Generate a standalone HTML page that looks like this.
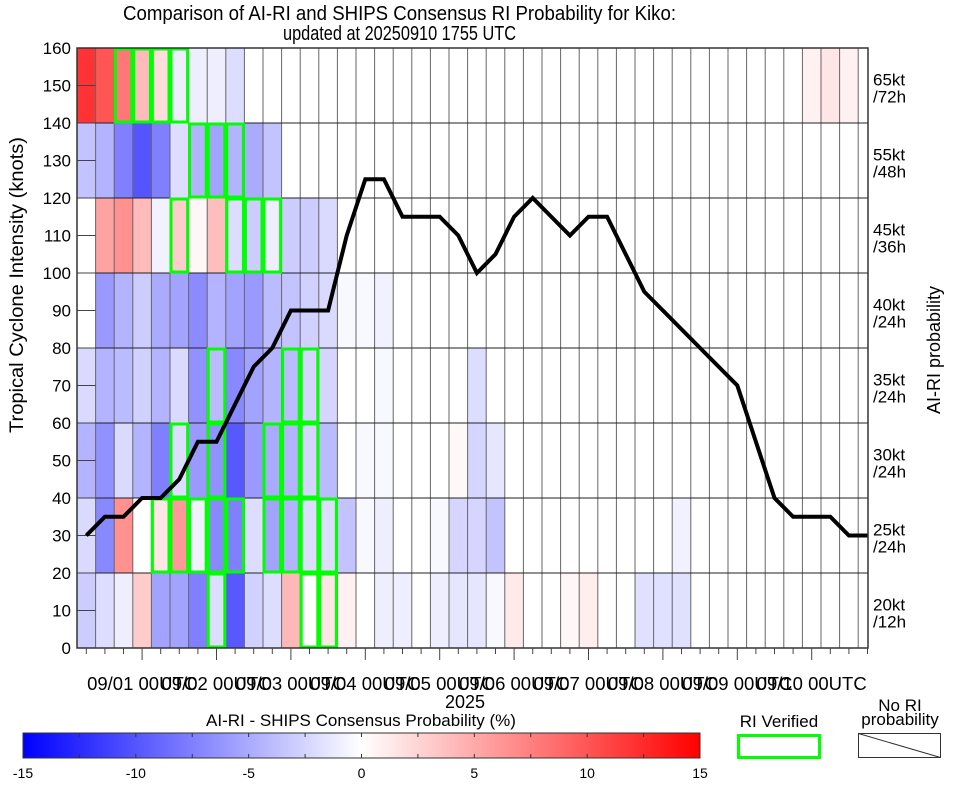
<!DOCTYPE html>
<html><head><meta charset="utf-8"><style>
html,body{margin:0;padding:0;background:#fff;}
svg{display:block;font-family:"Liberation Sans",sans-serif;}
</style></head><body>
<svg id="chart" width="964" height="786" viewBox="0 0 964 786"></svg>
<script>
const intensity=[30,35,35,40,40,45,55,55,65,75,80,90,90,90,110,125,125,115,115,115,110,100,105,115,120,115,110,115,115,105,95,90,85,80,75,70,55,40,35,35,35,30,30];
const row0=[-3,-2,-1,3,-5.5,-5.5,-7.5,-2,-9.8,-2.7,-2,4.2,0,1.5,0.8,0,-1,-1,0,-1,-1.5,-1.5,-0.4,1.3,0,0,0.5,1,0,0,-1.8,-1.8,-1.8];
const row1=[-2.2,-7,6.5,0,1.5,6,-0.8,-7,-7.5,-2,-5.5,-4.5,-2,-2,-3.5,-0.4,-1,0,0,-0.4,-2.5,-2.5,-3.5,0,0,0,0,0,0,0,0,0,-0.8];
const row2=[-4.5,-6.5,-2.2,-4.5,-7.5,-2,-6,-6.5,-9.8,-6,-5,-4.5,-2.5,-4,0,-0.4,-0.4,0,0,0,0.4,-2.5,-1.5];
const row3=[-2.2,-4.5,-4,-2.7,-4.5,-2.2,-6.5,-4,-7,-5.5,-4.5,-4,-2.5,-2.5,0,0,-0.4,0,0,0,0,-2];
const row4=[0,-6,-4.5,-3,-5,-5.5,-6.8,-4.5,-5.5,-6,-4,-3.5,-2.7,-2.2,-0.4,-0.4,-0.8];
const row5=[0,5.5,6.5,4,-0.8,3,0.5,3.8,-2,-3,-1,-3,-3,-2.2];
const row6=[-3.5,-4.5,-7.5,-10,-7.5,-2,-4.5,-5.5,-4.5,-5,-3.5];
const row7=[12,10,8,4,2,-1,-1,-1,-2,0,0,0,0,0,0,0,0,0,0,0,0,0,0,0,0,0,0,0,0,0,0,0,0,0,0,0,0,0,0,0.8,1.5,0.8];
const verifiedCells=[[2,7],[3,7],[4,7],[5,7],[6,6],[7,6],[8,6],[5,5],[8,5],[9,5],[10,5],[7,3],[11,3],[12,3],[5,2],[7,2],[10,2],[11,2],[12,2],[4,1],[5,1],[6,1],[7,1],[8,1],[10,1],[11,1],[12,1],[13,1],[7,0],[12,0],[13,0]];
const yTicks=[0,10,20,30,40,50,60,70,80,90,100,110,120,130,140,150,160];
const dayLabels=["09/01","09/02","09/03","09/04","09/05","09/06","09/07","09/08","09/09","09/10"];
const rowLabels=[["20kt","/12h"],["25kt","/24h"],["30kt","/24h"],["35kt","/24h"],["40kt","/24h"],["45kt","/36h"],["55kt","/48h"],["65kt","/72h"]];
const cbTicks=[-15,-10,-5,0,5,10,15];

const NS="http://www.w3.org/2000/svg";
const svg=document.getElementById('chart');
const X0=77,X1=868,Y0=648,Y1=48,CW=18.6,NCOL=42;
const xc=i=>X0+CW*(i+0.5);
const xl=i=>X0+CW*i;
const y=v=>Y0-(v/160)*(Y0-Y1);
function el(tag,attrs,parent){const e=document.createElementNS(NS,tag);for(const k in attrs)e.setAttribute(k,attrs[k]);(parent||svg).appendChild(e);return e;}
function txt(s,attrs,parent){const e=el('text',attrs,parent);e.textContent=s;return e;}
function col(v){const t=Math.min(1,Math.abs(v)/15);const c=Math.round(255*(1-t));return v<0?`rgb(${c},${c},255)`:`rgb(255,${c},${c})`;}

// title
const title=txt("Comparison of AI-RI and SHIPS Consensus RI Probability for Kiko:",{x:399.5,y:20,'font-size':20,'text-anchor':'middle',textLength:553,lengthAdjust:'spacingAndGlyphs'});


const sub=txt("updated at 20250910 1755 UTC",{x:399.5,y:40,'font-size':20,'text-anchor':'middle',textLength:233,lengthAdjust:'spacingAndGlyphs'});



// heatmap
const rows=[row0,row1,row2,row3,row4,row5,row6,row7];
const hm=el('g',{});


rows.forEach((r,ri)=>{for(let c=0;c<NCOL;c++){const v=r[c]||0;if(v===0)continue;
 const rc=el('rect',{x:xl(c),y:y((ri+1)*20),width:CW,height:y(ri*20)-y((ri+1)*20),fill:col(v)},hm);
 
 }});

// grid
const grid=el('g',{stroke:'#444','stroke-width':1},);


for(let c=1;c<=NCOL;c++)el('line',{x1:xl(c),x2:xl(c),y1:Y1,y2:Y0,stroke:'#666'},grid);
for(let r=1;r<8;r++)el('line',{x1:X0,x2:X1,y1:y(r*20),y2:y(r*20),stroke:'#222'},grid);
yTicks.forEach(v=>el('line',{x1:X0,x2:X0+CW,y1:y(v),y2:y(v),stroke:'#444'},grid));

// verified boxes
const vb=el('g',{fill:'none',stroke:'#00ff00','stroke-width':3});


verifiedCells.forEach(([c,r])=>{const b=el('rect',{x:xl(c)+1,y:y((r+1)*20)+1,width:CW-2,height:y(r*20)-y((r+1)*20)-2},vb);
 
 });

// intensity line
const pts=intensity.map((v,i)=>xc(i)+','+y(v)).join(' ');
const line=el('polyline',{points:pts,fill:'none',stroke:'#000','stroke-width':4,'stroke-linejoin':'miter'});



// frame
el('rect',{x:X0,y:Y1,width:X1-X0,height:Y0-Y1,fill:'none',stroke:'#333','stroke-width':1.5});

// y axis
const ya=el('g',{'font-size':17,'text-anchor':'end'});


yTicks.forEach(v=>txt(String(v),{x:71,y:y(v)+6},ya));
const yt=txt("Tropical Cyclone Intensity (knots)",{x:0,y:0,'font-size':19,'text-anchor':'middle',textLength:296,lengthAdjust:'spacingAndGlyphs',transform:'translate(23,285) rotate(-90)'});



// x axis
const xa=el('g',{stroke:'#444'});


for(let i=0;i<=NCOL;i++){const major=(i-3)%4===0&&i>=3;el('line',{x1:xc(i),x2:xc(i),y1:Y0,y2:Y0+(major?12:6)},xa);}
const xlg=el('g',{'font-size':18,'text-anchor':'middle'});


dayLabels.forEach((d,k)=>txt(d+" 00UTC",{x:xc(3+4*k),y:690,textLength:110,lengthAdjust:'spacingAndGlyphs'},xlg));
const yr=txt("2025",{x:465,y:708,'font-size':18,'text-anchor':'middle'});



// right labels
const rl=el('g',{'font-size':17});


rowLabels.forEach((l,r)=>{const cy=(y(r*20)+y((r+1)*20))/2;txt(l[0],{x:873,y:cy},rl);txt(l[1],{x:873,y:cy+17},rl);});
const rt=txt("AI-RI probability",{x:0,y:0,'font-size':18,'text-anchor':'middle',transform:'translate(940,350) rotate(-90)'});



// colorbar
const defs=el('defs',{});
const gr=el('linearGradient',{id:'cbg',x1:0,x2:1,y1:0,y2:0},defs);
el('stop',{offset:0,'stop-color':'#0000ff'},gr);el('stop',{offset:0.5,'stop-color':'#ffffff'},gr);el('stop',{offset:1,'stop-color':'#ff0000'},gr);
const CB0=23,CB1=700;
const cbx=v=>CB0+(v+15)/30*(CB1-CB0);
const cb=el('g',{});


el('rect',{x:CB0,y:733,width:CB1-CB0,height:25,fill:'url(#cbg)',stroke:'#333','stroke-width':1},cb);
for(let v=-15;v<=15;v+=2.5){el('line',{x1:cbx(v),x2:cbx(v),y1:733,y2:737,stroke:'#333'},cb);el('line',{x1:cbx(v),x2:cbx(v),y1:754,y2:758,stroke:'#333'},cb);}
cbTicks.forEach(v=>txt(String(v),{x:cbx(v),y:778,'font-size':14,'text-anchor':'middle'},cb));
const cbt=txt("AI-RI - SHIPS Consensus Probability (%)",{x:361,y:726,'font-size':17,'text-anchor':'middle'});



// legends
const lg=el('g',{});


txt("RI Verified",{x:779,y:727,'font-size':17,'text-anchor':'middle'},lg);
el('rect',{x:738.5,y:735.5,width:81,height:22,fill:'none',stroke:'#00ff00','stroke-width':3},lg);
const ln=el('g',{});


txt("No RI",{x:900,y:711,'font-size':17,'text-anchor':'middle'},ln);
txt("probability",{x:900,y:725,'font-size':17,'text-anchor':'middle'},ln);
el('rect',{x:858.5,y:733.5,width:82,height:24,fill:'#fff',stroke:'#333','stroke-width':1},ln);
el('line',{x1:858.5,y1:733.5,x2:940.5,y2:757.5,stroke:'#333','stroke-width':1},ln);
</script>
</body></html>
